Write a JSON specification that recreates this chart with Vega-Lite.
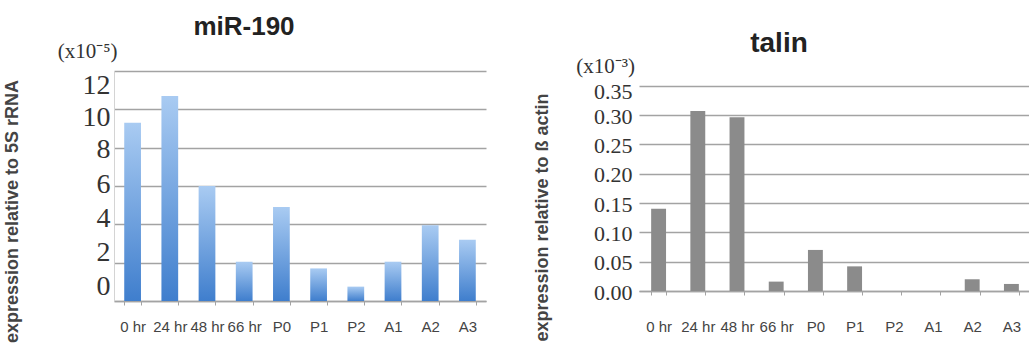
{
  "$schema": "https://vega.github.io/schema/vega-lite/v6.json",
  "background": "white",
  "padding": {"left": 2, "top": 14, "right": 0, "bottom": 0},
  "spacing": 46,
  "config": {
    "view": {"stroke": null},
    "axisX": {
      "title": null,
      "grid": false,
      "domainColor": "#a3a3a3",
      "domainWidth": 1.5,
      "tickColor": "#a3a3a3",
      "tickSize": 4,
      "tickBand": "extent",
      "labelAngle": 0,
      "labelFont": "Liberation Sans",
      "labelFontSize": 15,
      "labelColor": "#444444",
      "labelBaseline": "top",
      "labelOverlap": false,
      "labelBound": false
    },
    "axisY": {
      "grid": true,
      "gridColor": "#a3a3a3",
      "gridWidth": 1.5,
      "domain": true,
      "domainColor": "#d4d4d4",
      "ticks": false,
      "tickCount": 12,
      "labelOverlap": false,
      "labelFont": "Liberation Serif",
      "labelColor": "#333333",
      "titleFont": "Liberation Sans",
      "titleFontWeight": "bold",
      "titleColor": "#444444"
    },
    "title": {
      "font": "Liberation Sans",
      "fontWeight": "bold",
      "color": "#222222",
      "anchor": "middle",
      "frame": "group"
    }
  },
  "datasets": {
    "mir190": [
      {"stage": "0 hr", "value": 9.3},
      {"stage": "24 hr", "value": 10.7},
      {"stage": "48 hr", "value": 6.0},
      {"stage": "66 hr", "value": 2.05},
      {"stage": "P0", "value": 4.9},
      {"stage": "P1", "value": 1.7},
      {"stage": "P2", "value": 0.75},
      {"stage": "A1", "value": 2.05},
      {"stage": "A2", "value": 3.95},
      {"stage": "A3", "value": 3.2}
    ],
    "talin": [
      {"stage": "0 hr", "value": 0.14},
      {"stage": "24 hr", "value": 0.307},
      {"stage": "48 hr", "value": 0.296},
      {"stage": "66 hr", "value": 0.016},
      {"stage": "P0", "value": 0.07},
      {"stage": "P1", "value": 0.042},
      {"stage": "P2", "value": 0},
      {"stage": "A1", "value": 0},
      {"stage": "A2", "value": 0.02},
      {"stage": "A3", "value": 0.012}
    ]
  },
  "hconcat": [
    {
      "title": {"text": "miR-190", "fontSize": 26, "dx": -56, "offset": 1},
      "width": 372,
      "height": 230,
      "layer": [
        {
          "data": {"name": "mir190"},
          "mark": {"type": "bar", "color": {"gradient": "linear", "x1": 0, "y1": 0, "x2": 0, "y2": 1, "stops": [{"offset": 0, "color": "#a9cbf2"}, {"offset": 1, "color": "#3f7ecd"}]}},
          "encoding": {
            "x": {"field": "stage", "type": "nominal", "sort": null, "scale": {"paddingInner": 0.55}, "axis": {"labelPadding": 14}},
            "y": {
              "field": "value", "type": "quantitative",
              "scale": {"domain": [0, 12], "nice": false},
              "axis": {"values": [0, 2, 4, 6, 8, 10, 12], "format": "d", "labelFontSize": 28, "labelPadding": 4,
                       "labelOffset": {"condition": [
                         {"test": "datum.value == 12", "value": 14},
                         {"test": "datum.value == 10", "value": 8},
                         {"test": "datum.value == 8", "value": 2},
                         {"test": "datum.value == 6", "value": -2},
                         {"test": "datum.value == 4", "value": -6},
                         {"test": "datum.value == 2", "value": -10}
                       ], "value": -15},
                       "title": "expression relative to 5S rRNA", "titleFontSize": 18, "titleX": -93, "titleY": 140}
            }
          }
        },
        {
          "data": {"values": [{}]},
          "mark": {"type": "text", "text": "(x10⁻⁵)", "font": "Liberation Serif", "fontSize": 21, "color": "#333333", "dx": -45, "dy": -19},
          "encoding": {"x": {"datum": "0 hr"}, "y": {"datum": 12}}
        }
      ]
    },
    {
      "title": {"text": "talin", "fontSize": 28, "dx": -56, "dy": 3, "offset": 1},
      "width": 392,
      "height": 220,
      "layer": [
        {
          "data": {"name": "talin"},
          "mark": {"type": "bar", "color": "#8b8b8b"},
          "encoding": {
            "x": {"field": "stage", "type": "nominal", "sort": null, "scale": {"paddingInner": 0.62}, "axis": {"labelPadding": 24}},
            "y": {
              "field": "value", "type": "quantitative",
              "scale": {"domain": [0, 0.375], "nice": false},
              "axis": {"values": [0, 0.05, 0.1, 0.15, 0.2, 0.25, 0.3, 0.35], "format": ".2f", "labelFontSize": 22, "labelPadding": 7,
                       "labelOffset": {"condition": {"test": "datum.value > 0.32", "value": 6}, "value": 1},
                       "domain": false,
                       "title": "expression relative to ß actin", "titleFontSize": 18, "titleX": -88, "titleY": 146}
            }
          }
        },
        {
          "data": {"values": [{}]},
          "mark": {"type": "text", "text": "(x10⁻³)", "font": "Liberation Serif", "fontSize": 21, "color": "#333333", "dx": -53, "dy": -19},
          "encoding": {"x": {"datum": "0 hr"}, "y": {"datum": 0.35}}
        }
      ]
    }
  ]
}
